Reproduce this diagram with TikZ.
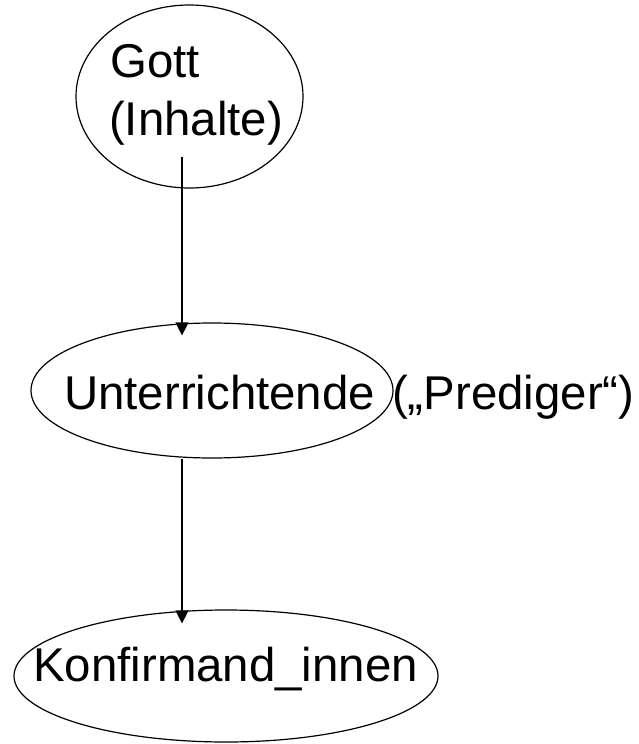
\documentclass[tikz,border=0pt]{standalone}
\usepackage{fontspec}
\setmainfont{Liberation Sans}
\usetikzlibrary{shapes.geometric,arrows.meta}
\begin{document}
\begin{tikzpicture}[x=1pt,y=1pt,
		oval/.style={draw,ellipse,line width=1.2pt,inner sep=0pt},
		word/.style={inner sep=0pt,anchor=base west,font=\fontsize{47.4}{58}\selectfont},
		flow/.style={line width=1.2pt,-{Triangle[length=13pt,width=13pt]}}]
		\useasboundingbox (0,0) rectangle (638,-744);
		\node[oval,minimum width=227pt,minimum height=183pt] (gott) at (189.5,-96.5) {};
		\node[oval,minimum width=362pt,minimum height=135pt] (unter) at (212,-390.5) {};
		\node[oval,minimum width=424pt,minimum height=132pt] (konf) at (226,-676) {};
		\node[word] (gottL) at (110,-77) {Gott};
		\node[word] (inhaltL) at (109,-135) {(Inhalte)};
		\node[word] (unterL) at (64,-409) {Unterrichtende};
		\node[word] (predL) at (392,-409) {(„Prediger“)};
		\node[word] (konfL) at (33,-681) {Konfirmand\_innen};
		\draw[flow] ([xshift=-7.5pt,yshift=31.5pt]gott.south) -- ([xshift=-30pt,yshift=-13pt]unter.north);
		\draw[flow] ([xshift=-30pt]unter.south) -- ([xshift=-44pt,yshift=-14pt]konf.north);
	\end{tikzpicture}
\end{document}
